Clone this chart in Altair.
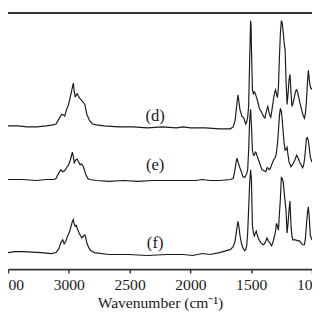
import altair as alt
import pandas as pd

# Wavenumbers (cm^-1) and offset absorbance (arbitrary units)
d_wn = [3500, 3422, 3343, 3264, 3185, 3129, 3105, 3082, 3058, 3042, 3034, 3018, 3002, 2987, 2975, 2963, 2955, 2947,
        2931, 2919, 2907, 2892, 2880, 2868, 2860, 2852, 2828, 2804, 2773, 2709, 2590, 2472, 2353, 2234, 2115, 2060,
        1997, 1878, 1760, 1672, 1648, 1632, 1620, 1609, 1601, 1593, 1577, 1561, 1553, 1545, 1537, 1529, 1521, 1513,
        1505, 1501, 1498, 1490, 1482, 1474, 1466, 1458, 1442, 1434, 1419, 1403, 1395, 1387, 1379, 1371, 1363, 1355,
        1347, 1339, 1332, 1324, 1316, 1308, 1300, 1292, 1284, 1276, 1268, 1260, 1252, 1244, 1236, 1229, 1221, 1213,
        1205, 1197, 1189, 1181, 1173, 1165, 1157, 1149, 1141, 1134, 1126, 1118, 1110, 1102, 1094, 1086, 1078, 1070,
        1062, 1054, 1046, 1038, 1030, 1022, 1014, 1006, 1000]
d_ab = [147, 147, 146, 146, 147, 148, 149, 154, 159, 158, 157, 164, 169, 177, 184, 191, 182, 177,
        180, 177, 175, 173, 171, 169, 164, 159, 152, 149, 148, 147, 146, 146, 145, 146, 145, 146,
        145, 145, 144, 144, 146, 153, 167, 179, 172, 164, 157, 155, 152, 149, 151, 156, 167, 212,
        255, 250, 227, 184, 180, 182, 180, 177, 170, 165, 162, 158, 156, 155, 160, 164, 167, 162,
        158, 156, 161, 168, 175, 181, 184, 180, 176, 187, 217, 242, 255, 252, 242, 232, 225, 192,
        169, 180, 194, 200, 182, 167, 170, 174, 179, 183, 184, 181, 177, 172, 168, 164, 160, 157,
        155, 160, 172, 190, 204, 194, 187, 185, 186]

e_wn = [3500, 3383, 3264, 3185, 3121, 3105, 3090, 3066, 3050, 3034, 3018, 3002, 2987, 2971, 2963, 2955, 2943, 2931,
        2919, 2907, 2896, 2884, 2872, 2860, 2844, 2828, 2773, 2670, 2551, 2432, 2313, 2195, 2076, 1957, 1902, 1838,
        1760, 1672, 1648, 1636, 1624, 1617, 1609, 1593, 1581, 1569, 1553, 1537, 1529, 1521, 1513, 1505, 1498, 1490,
        1482, 1474, 1466, 1458, 1446, 1434, 1423, 1411, 1395, 1379, 1371, 1363, 1355, 1343, 1332, 1316, 1300, 1292,
        1284, 1276, 1268, 1260, 1252, 1244, 1236, 1229, 1221, 1213, 1205, 1197, 1189, 1173, 1157, 1141, 1126, 1114,
        1102, 1086, 1078, 1070, 1062, 1054, 1046, 1038, 1030, 1022, 1014, 1006, 1000]
e_ab = [92, 92, 91, 92, 92, 93, 97, 102, 100, 101, 104, 107, 112, 120, 116, 109, 112, 113,
        110, 107, 108, 106, 102, 97, 93, 92, 91, 90, 91, 90, 91, 91, 91, 91, 92, 91,
        91, 92, 93, 100, 110, 114, 110, 104, 100, 95, 94, 98, 102, 122, 152, 164, 147, 122,
        117, 117, 120, 119, 114, 110, 106, 102, 101, 100, 104, 104, 102, 103, 107, 112, 115, 120,
        129, 142, 157, 165, 162, 152, 139, 129, 122, 123, 125, 117, 110, 105, 108, 112, 117, 114,
        110, 106, 104, 106, 112, 122, 134, 135, 132, 124, 115, 112, 110]

f_wn = [3500, 3445, 3383, 3303, 3224, 3145, 3105, 3082, 3066, 3050, 3038, 3026, 3010, 2995, 2979, 2971, 2963, 2955,
        2947, 2939, 2931, 2915, 2903, 2892, 2880, 2868, 2860, 2852, 2836, 2820, 2789, 2670, 2511, 2353, 2195, 2060,
        1981, 1902, 1838, 1760, 1704, 1672, 1648, 1632, 1620, 1609, 1601, 1593, 1581, 1569, 1553, 1545, 1537, 1529,
        1521, 1513, 1505, 1498, 1494, 1490, 1482, 1474, 1466, 1458, 1450, 1442, 1430, 1419, 1403, 1391, 1379, 1371,
        1359, 1347, 1332, 1320, 1308, 1300, 1292, 1284, 1276, 1268, 1260, 1252, 1244, 1236, 1229, 1221, 1213, 1205,
        1197, 1189, 1181, 1173, 1165, 1157, 1145, 1134, 1118, 1102, 1090, 1078, 1062, 1054, 1046, 1038, 1030, 1022,
        1014, 1006, 1000]
f_ab = [17, 18, 18, 17.5, 17, 16, 17, 21, 27, 30, 26, 28, 34, 38, 45, 49, 51, 46,
        44, 45, 42, 37, 34, 32, 34, 35, 32, 27, 22, 19, 17, 15, 15, 14, 15, 15,
        14, 16, 15, 17, 19, 20, 23, 29, 40, 49, 44, 35, 27, 22, 19, 20, 24, 37,
        62, 87, 102, 92, 67, 45, 37, 34, 37, 39, 35, 32, 29, 27, 25, 26, 29, 32,
        29, 27, 24, 28, 34, 39, 47, 44, 40, 57, 72, 94, 93, 89, 79, 69, 59, 37,
        47, 60, 70, 45, 34, 30, 30, 30, 29, 29, 27, 25, 25, 32, 45, 57, 64, 52,
        35, 32, 30]

label_text = ["(d)", "(e)", "(f)"]
label_wn = [2290, 2290, 2290]
label_ab = [157, 107, 27]

tick_values = [3500, 3250, 3000, 2750, 2500, 2250, 2000, 1750, 1500, 1250, 1000]

rows = []
for name, wn, ab in (("d", d_wn, d_ab), ("e", e_wn, e_ab), ("f", f_wn, f_ab)):
    for w, a in zip(wn, ab):
        rows.append({"series": name, "wn": w, "ab": a})
spectra = pd.DataFrame(rows)
labels = pd.DataFrame({"text": label_text, "wn": label_wn, "ab": label_ab})

FONT = "Liberation Serif"
INK = "#1a1a1a"

x_scale = alt.Scale(domain=[1000, 3500], reverse=True, nice=False, zero=False)
y_scale = alt.Scale(domain=[0, 264], nice=False, zero=False)

lines = alt.Chart(spectra).mark_line(color=INK, strokeWidth=1.2, clip=True).encode(
    x=alt.X("wn:Q", scale=x_scale,
            axis=alt.Axis(title="Wavenumber (cm⁻¹)", values=tick_values,
                          labelExpr="datum.value % 500 === 0 ? format(datum.value, 'd') : ''",
                          grid=False, domainColor="#333333", domainWidth=2,
                          tickColor="#333333", tickWidth=1.5, tickSize=4,
                          labelFont=FONT, labelFontSize=16, labelColor=INK,
                          labelPadding=4, labelFlush=False, labelOverlap=False,
                          titleFont=FONT, titleFontSize=16, titleFontWeight="normal",
                          titleColor=INK, titlePadding=2)),
    y=alt.Y("ab:Q", scale=y_scale, axis=None),
    detail="series:N",
    order="wn:Q",
)

text = alt.Chart(labels).mark_text(font=FONT, fontSize=17, color=INK).encode(
    x=alt.X("wn:Q", scale=x_scale),
    y=alt.Y("ab:Q", scale=y_scale),
    text="text:N",
)

frame_top = alt.Chart(labels).mark_rule(color="#333333", strokeWidth=2).encode(
    x=alt.value(0), x2=alt.value(312), y=alt.value(1)
)

chart = alt.layer(lines, text, frame_top).properties(
    width=312, height=264,
    autosize=alt.AutoSizeParams(type="none"),
    padding={"left": 0, "top": 0, "right": 0, "bottom": 40},
).configure_view(stroke=None)

chart.save("out.html", embed_options={"renderer": "svg", "actions": False})
